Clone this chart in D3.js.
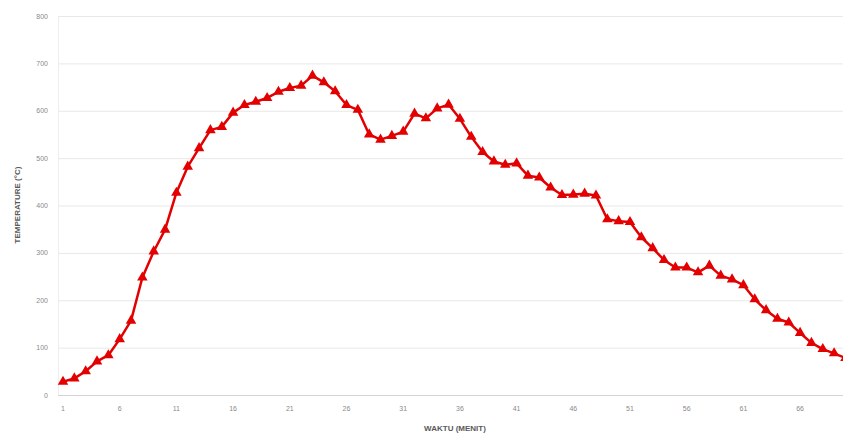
<!DOCTYPE html>
<html>
<head>
<meta charset="utf-8">
<script src="https://cdn.jsdelivr.net/npm/d3@7"></script>
<style>
  body { margin: 0; background: #fff; }
  svg { display: block; font-family: "Liberation Sans", Arial, sans-serif; }
</style>
</head>
<body>
<div id="chart"></div>
<script>
// menit 1..70
const minutes = d3.range(1, 71);
const temps = [
  28, 35, 50, 71, 84, 118, 157, 248, 303, 349,
  427, 482, 521, 559, 566, 596, 612, 619, 627, 640,
  648, 653, 674, 660, 641, 612, 602, 550, 539, 547,
  556, 594, 584, 605, 613, 583, 545, 513, 493, 486,
  489, 463, 459, 438, 422, 423, 425, 421, 371, 367,
  365, 333, 310, 285, 269, 269, 259, 273, 252, 244,
  232, 202, 179, 161, 153, 131, 110, 97, 88, 78
];
const yTicks = [0, 100, 200, 300, 400, 500, 600, 700, 800];
const xTickLabels = [1, 6, 11, 16, 21, 26, 31, 36, 41, 46, 51, 56, 61, 66];

const width = 843;
const height = 436;
const plotLeft = 58;

const svg = d3.select("#chart")
    .append("svg")
    .attr("width", width)
    .attr("height", height);

const x = d3.scaleLinear()
    .domain([1, 70])
    .range([63, 63 + 69 * 11.34]);

const y = d3.scaleLinear()
    .domain([0, 800])
    .range([395, 16]);

// gridlines
svg.append("g")
    .selectAll("line")
    .data(yTicks)
    .join("line")
    .attr("x1", plotLeft)
    .attr("x2", width)
    .attr("y1", d => y(d) + 0.5)
    .attr("y2", d => y(d) + 0.5)
    .attr("stroke", d => d === 0 ? "#d4d4d4" : "#e8e8e8")
    .attr("stroke-width", 1);

// faint left axis line
svg.append("line")
    .attr("x1", plotLeft + 0.5).attr("x2", plotLeft + 0.5)
    .attr("y1", y(800)).attr("y2", y(0))
    .attr("stroke", "#eeeeee");

// y tick labels
svg.append("g")
    .selectAll("text")
    .data(yTicks)
    .join("text")
    .attr("x", 48)
    .attr("y", d => y(d) + 2.5)
    .attr("text-anchor", "end")
    .style("font-size", "7px")
    .style("fill", "#8a8a8a")
    .text(d => d);

// x tick labels
svg.append("g")
    .selectAll("text")
    .data(xTickLabels)
    .join("text")
    .attr("x", d => x(d))
    .attr("y", 411)
    .attr("text-anchor", "middle")
    .style("font-size", "7px")
    .style("fill", "#8a8a8a")
    .text(d => d);

// axis titles
svg.append("text")
    .attr("transform", `translate(20, 205) rotate(-90)`)
    .attr("text-anchor", "middle")
    .style("font-size", "8px")
    .style("font-weight", "bold")
    .style("fill", "#595959")
    .text("TEMPERATURE (°C)");

svg.append("text")
    .attr("x", 455)
    .attr("y", 431)
    .attr("text-anchor", "middle")
    .style("font-size", "8px")
    .style("font-weight", "bold")
    .style("fill", "#595959")
    .text("WAKTU (MENIT)");

// line
const line = d3.line()
    .x((d, i) => x(minutes[i]))
    .y(d => y(d));

svg.append("path")
    .datum(temps)
    .attr("fill", "none")
    .attr("stroke", "#e30000")
    .attr("stroke-width", 2.5)
    .attr("stroke-linejoin", "round")
    .attr("d", line);

// triangle markers
const tri = d3.symbol().type(d3.symbolTriangle).size(48);
svg.append("g")
    .selectAll("path")
    .data(temps)
    .join("path")
    .attr("transform", (d, i) => `translate(${x(minutes[i])}, ${y(d)})`)
    .attr("d", tri)
    .attr("fill", "#e30000");
</script>
</body>
</html>
